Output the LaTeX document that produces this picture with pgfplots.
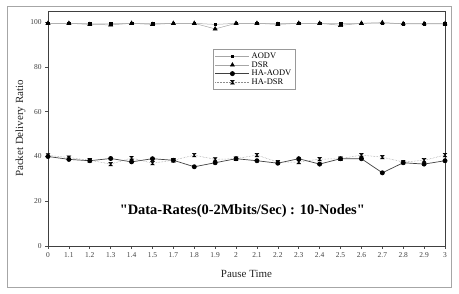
\documentclass[border=0pt]{standalone}
\usepackage{pgfplots}
\pgfplotsset{compat=1.18}
\usepackage{fontspec}
\setmainfont{Liberation Serif}
\newfontfamily\qfont{Liberation Serif}[Ligatures=TeXOff]
\makeatletter
\pgfdeclareplotmark{hourglass}{%
  \pgfpathmoveto{\pgfqpoint{-\pgfplotmarksize}{\pgfplotmarksize}}%
  \pgfpathlineto{\pgfqpoint{\pgfplotmarksize}{\pgfplotmarksize}}%
  \pgfpathlineto{\pgfqpoint{-\pgfplotmarksize}{-\pgfplotmarksize}}%
  \pgfpathlineto{\pgfqpoint{\pgfplotmarksize}{-\pgfplotmarksize}}%
  \pgfpathclose
  \pgfusepathqfillstroke
}
\makeatother
\begin{document}
\begin{tikzpicture}
\begin{axis}[
  scale only axis, width=397bp, height=235bp,
  xmin=0, xmax=19, ymin=0, ymax=105,
  xtick={0,...,19},
  xticklabels={0,1.1,1.2,1.3,1.4,1.5,1.7,1.8,1.9,2,2.1,2.2,2.3,2.4,2.5,2.6,2.7,2.8,2.9,3},
  ytick={0,20,40,60,80,100},
  tick align=outside, xtick pos=bottom, ytick pos=left,
  major tick length=3pt,
  axis line style={black!75, line width=1pt},
  tick style={black!70, line width=0.6pt},
  /pgf/number format/assume math mode=true,
  ticklabel style={font=\fontsize{7.5}{8}\selectfont, black!75},
  xlabel={Pause Time}, ylabel={Packet Delivery Ratio},
  label style={font=\fontsize{11}{12}\selectfont, black!85},
  xlabel style={yshift=-6pt},
  ylabel style={yshift=-2pt},
  legend cell align=left,
  legend image code/.code={\draw[mark repeat=2,mark phase=2] plot coordinates {(0cm,0cm) (0.6cm,0cm) (1.2cm,0cm)};},
  legend style={at={(rel axis cs:0.415,0.84)}, anchor=north west,
    font=\fontsize{8.5}{9}\selectfont, draw=black!40, line width=0.6pt,
    row sep=-2.5pt, inner sep=2pt},
  clip=false,
]
\addplot[black!35, line width=0.5pt, mark=square*, mark size=1.3pt, mark options={black, solid}] coordinates {
(0,99.5)(1,99.5)(2,99.3)(3,99.3)(4,99.5)(5,99.3)(6,99.5)(7,99.5)(8,99)(9,99.5)
(10,99.5)(11,99.3)(12,99.5)(13,99.5)(14,99.3)(15,99.5)(16,99.6)(17,99.4)(18,99.4)(19,99.4)};
\addlegendentry{AODV}
\addplot[black!35, line width=0.5pt, mark=triangle*, mark size=2.4pt, mark options={black, solid}] coordinates {
(0,99.5)(1,99.5)(2,99)(3,98.8)(4,99.5)(5,99)(6,99.5)(7,99.5)(8,97)(9,99.5)
(10,99.5)(11,99)(12,99.5)(13,99.5)(14,98.6)(15,99.5)(16,99.8)(17,99.3)(18,99.3)(19,99.3)};
\addlegendentry{DSR}
\addplot[black!75, line width=0.7pt, mark=*, mark size=2.1pt, mark options={black, solid}] coordinates {
(0,40)(1,38.7)(2,38.1)(3,39.1)(4,37.6)(5,39)(6,38.3)(7,35.4)(8,37.2)(9,39)
(10,38.1)(11,37)(12,39)(13,36.6)(14,39)(15,39)(16,32.7)(17,37.2)(18,36.6)(19,38.1)};
\addlegendentry{HA-AODV}
\addplot[black!45, line width=0.5pt, densely dotted, mark=hourglass, mark size=1.8pt, mark options={black, solid}] coordinates {
(0,40.5)(1,39.5)(2,38.3)(3,36.6)(4,39.3)(5,37)(6,38.3)(7,40.6)(8,38.7)(9,39)
(10,40.6)(11,37.5)(12,37.5)(13,38.8)(14,39)(15,40.6)(16,39.7)(17,37.5)(18,38.3)(19,40.6)};
\addlegendentry{HA-DSR}
\node[font=\qfont\bfseries\fontsize{14.5}{15}\selectfont] at (axis cs:9.3,15.6) {"Data-Rates(0-2Mbits/Sec) : 10-Nodes"};
\path (rel axis cs:0,0) ++(-48bp,-48bp) coordinate (bl);
\path (rel axis cs:1,1) ++(14bp,11bp) coordinate (tr);
\path (rel axis cs:0,0) ++(-41bp,-41bp) coordinate (fbl);
\path (rel axis cs:1,1) ++(6bp,5bp) coordinate (ftr);
\end{axis}
\path (bl) rectangle (tr);
\draw[black!35, line width=1pt] (fbl) rectangle (ftr);
\end{tikzpicture}
\end{document}
